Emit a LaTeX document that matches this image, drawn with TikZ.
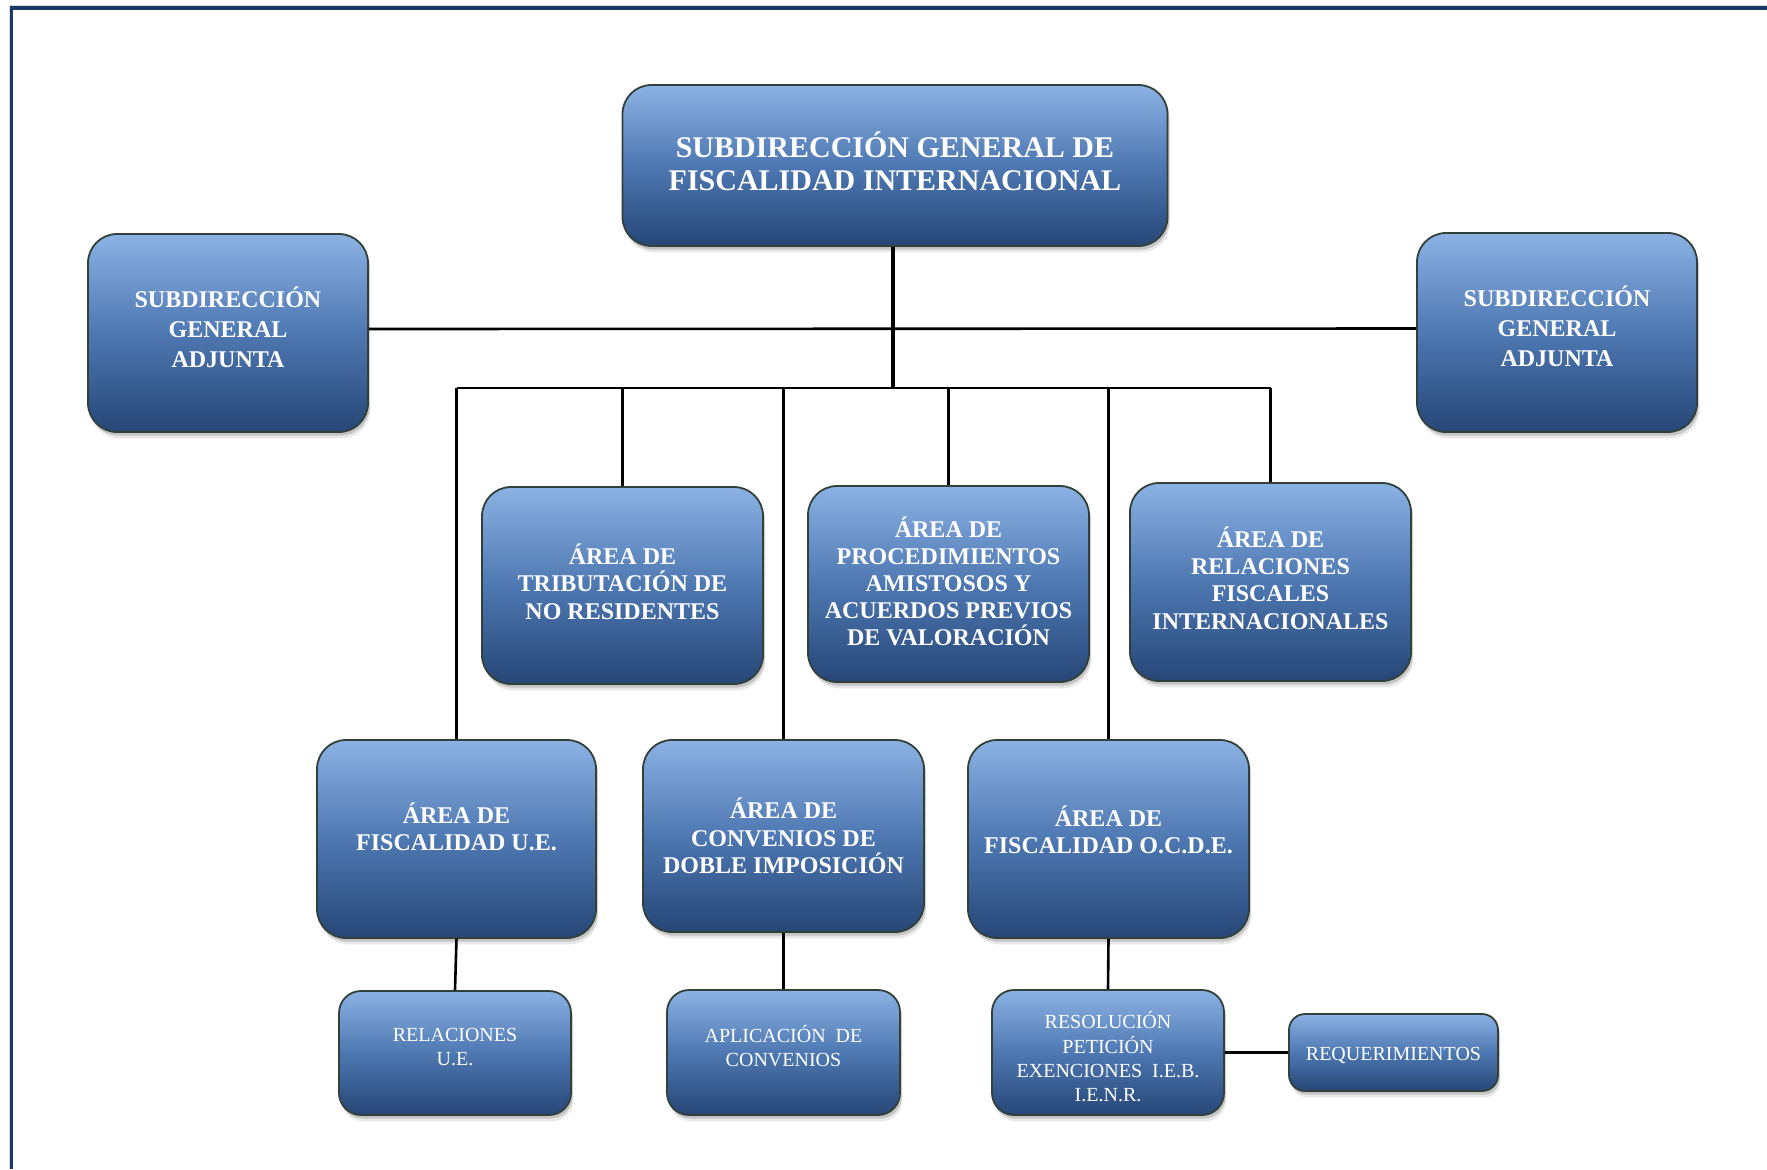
\documentclass[tikz,border=0pt]{standalone}
\usepackage{fontspec}
\setmainfont{Liberation Serif}
\usetikzlibrary{shadows}
\definecolor{boxtop}{RGB}{140,178,228}
\definecolor{boxmid}{RGB}{78,120,178}
\definecolor{boxbot}{RGB}{38,70,118}
\definecolor{boxline}{RGB}{50,64,58}
\definecolor{framenavy}{RGB}{28,56,100}
\begin{document}
\begin{tikzpicture}[x=0.5pt,y=-0.5pt,
  box/.style={draw=boxline, line width=0.9pt, rounded corners=14.5pt,
    top color=boxtop, bottom color=boxbot, middle color=boxmid,
    drop shadow={shadow xshift=1.2pt,shadow yshift=-3.2pt,opacity=0.18},
    drop shadow={shadow xshift=0.8pt,shadow yshift=-1.8pt,opacity=0.35},
    text=white, align=center, inner sep=2pt},
  bigbox/.style={box, font=\bfseries\fontsize{12}{13.6}\selectfont},
  smallbox/.style={box, rounded corners=11pt, font=\fontsize{10}{12.2}\selectfont},
  conn/.style={line width=1.3pt},
  trunk/.style={line width=2.4pt}]
\useasboundingbox (0,0) rectangle (1767,1169);
% page frame
\draw[gray!30, line width=0.6pt] (9.7,1169) -- (9.7,5.8) -- (1767,5.8);
\draw[framenavy, line width=1.6pt] (11.8,1169) -- (11.8,8) -- (1767,8);

% nodes
\node[box, font=\bfseries\fontsize{15}{16.5}\selectfont, minimum width=272.5pt, minimum height=80.5pt, text depth=4.5pt] (top) at (895,165.5) {SUBDIRECCIÓN GENERAL DE\\FISCALIDAD INTERNACIONAL};
\node[bigbox, font=\bfseries\fontsize{12}{15}\selectfont, minimum width=140pt, minimum height=99pt, text depth=6pt] (sgaL) at (228,333) {SUBDIRECCIÓN\\GENERAL\\ADJUNTA};
\node[bigbox, font=\bfseries\fontsize{12}{15}\selectfont, minimum width=140pt, minimum height=99.5pt, text depth=6pt] (sgaR) at (1557,332.5) {SUBDIRECCIÓN\\GENERAL\\ADJUNTA};

\node[bigbox, minimum width=140.5pt, minimum height=98.5pt, text depth=4pt] (trib) at (622.5,585.5) {ÁREA DE\\TRIBUTACIÓN DE\\NO RESIDENTES};
\node[bigbox, minimum width=140.5pt, minimum height=98pt, text depth=2.8pt] (proc) at (948.5,584) {ÁREA DE\\PROCEDIMIENTOS\\AMISTOSOS Y\\ACUERDOS PREVIOS\\DE VALORACIÓN};
\node[bigbox, minimum width=140.5pt, minimum height=99pt, text depth=4pt] (rel) at (1270.5,582) {ÁREA DE\\RELACIONES\\FISCALES\\INTERNACIONALES};

\node[bigbox, minimum width=139.5pt, minimum height=99pt, text depth=12pt] (ue) at (456.5,839) {ÁREA DE\\FISCALIDAD U.E.};
\node[bigbox, minimum width=140.5pt, minimum height=96pt] (conv) at (783.5,836) {ÁREA DE\\CONVENIOS DE\\DOBLE IMPOSICIÓN};
\node[bigbox, minimum width=140.5pt, minimum height=99pt, text depth=9pt] (ocde) at (1108.5,839) {ÁREA DE\\FISCALIDAD O.C.D.E.};

\node[smallbox, minimum width=116pt, minimum height=62pt, text depth=6pt] (rue) at (455,1053) {RELACIONES\\U.E.};
\node[smallbox, minimum width=116.5pt, minimum height=62.5pt, text depth=6.5pt] (apl) at (783.5,1052.5) {APLICACIÓN\ \ DE\\CONVENIOS};
\node[smallbox, minimum width=116pt, minimum height=62.5pt, text depth=0pt] (res) at (1108,1052.5) {\rule{0pt}{12.8pt}RESOLUCIÓN\\PETICIÓN\\EXENCIONES\ \ I.E.B.\\I.E.N.R.};
\node[smallbox, rounded corners=8pt, minimum width=104.5pt, minimum height=38.5pt, text height=7.6pt, text depth=0pt] (req) at (1393.5,1052.5) {REQUERIMIENTOS};

% connectors
\coordinate (busL) at (ue.north |- 0,388);
\coordinate (busR) at (rel.north |- 0,388);
\draw[conn] ([yshift=2pt]sgaL.east) -- ([yshift=2pt]sgaR.west);
\draw[trunk] ([xshift=-1pt]top.south) -- ([xshift=-1pt]top.south |- busL);
\draw[conn] (busL) -- (busR);
\draw[conn] (busL) -- (ue.north);
\draw[conn] (trib.north |- busL) -- (trib.north);
\draw[conn] (conv.north |- busL) -- (conv.north);
\draw[conn] (proc.north |- busL) -- (proc.north);
\draw[conn] (ocde.north |- busL) -- (ocde.north);
\draw[conn] (busR) -- (rel.north);
\draw[conn] (ue.south) -- (rue.north);
\draw[conn] (conv.south) -- (apl.north);
\draw[conn] (ocde.south) -- (res.north);
\draw[conn] (res.east) -- (req.west);
\end{tikzpicture}
\end{document}
